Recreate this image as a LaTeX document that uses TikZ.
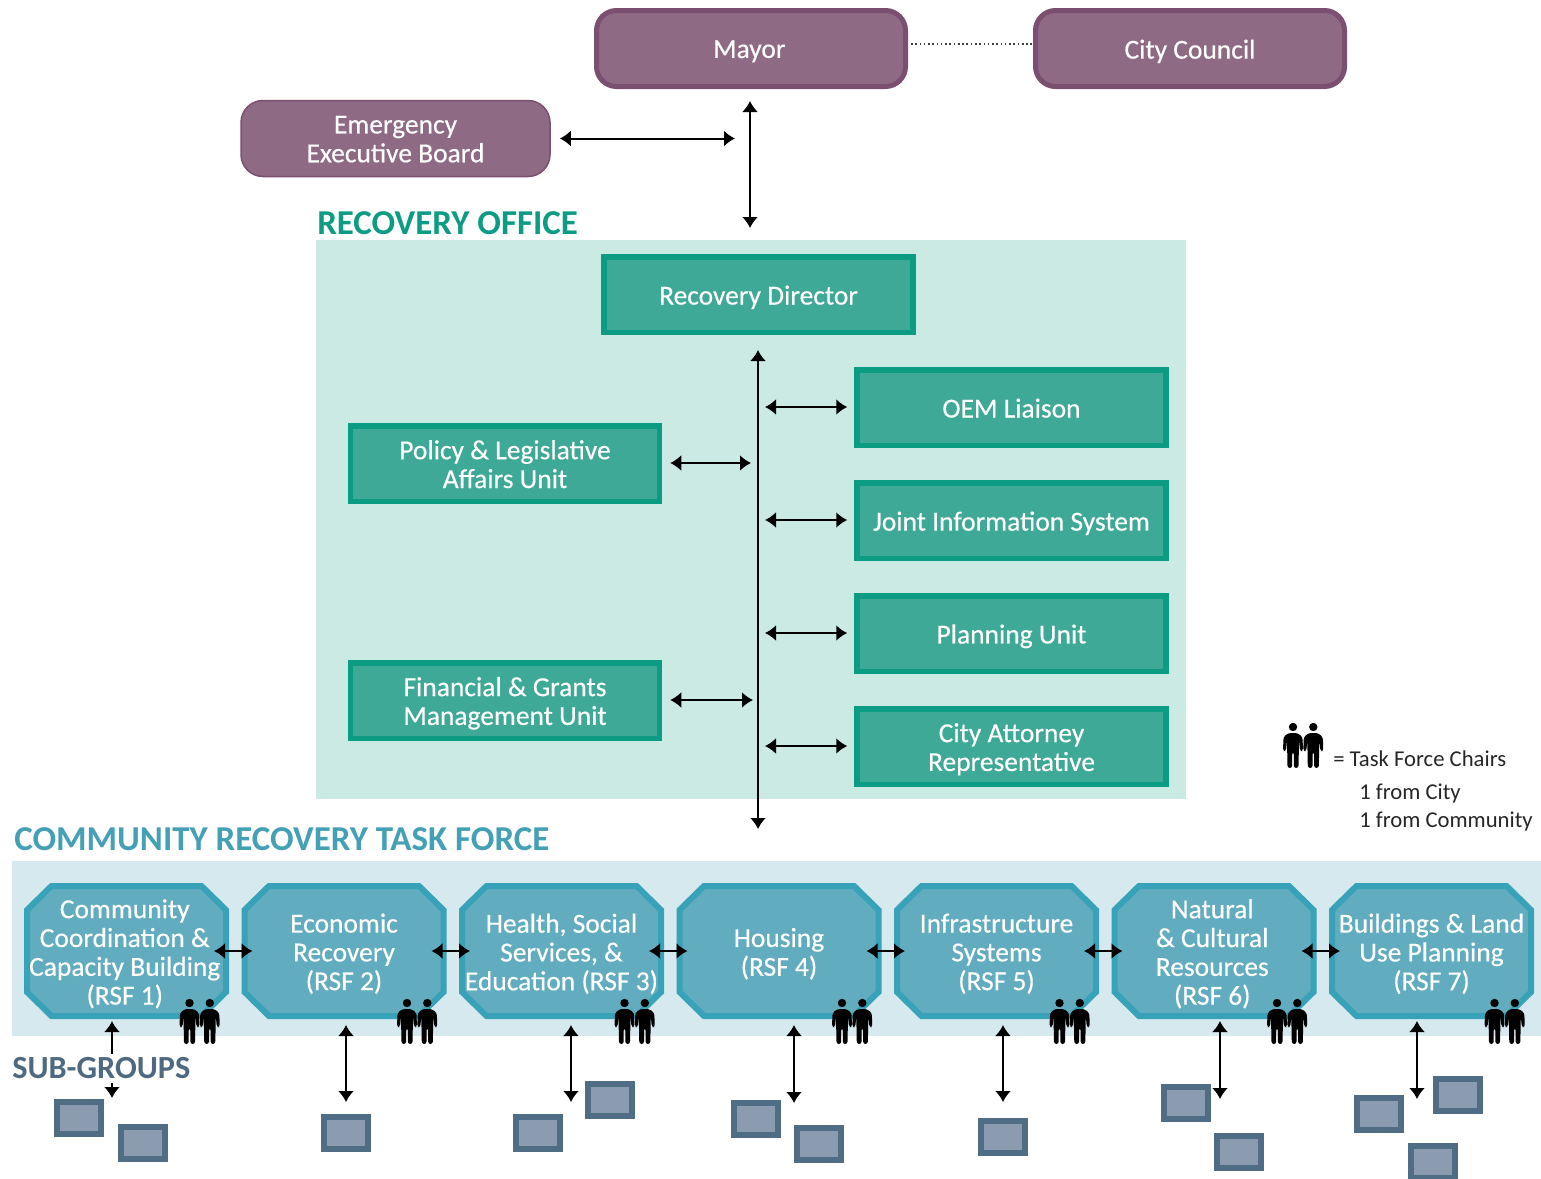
\documentclass[tikz,border=0pt]{standalone}
\usepackage{fontspec}
\setmainfont{Carlito}
\newfontfamily\boxfont{Carlito}[FakeBold=0.35]
\usetikzlibrary{arrows.meta,calc}
\definecolor{purpfill}{HTML}{8F6A85}
\definecolor{purpline}{HTML}{7A4F6F}
\definecolor{greenfill}{HTML}{3FA998}
\definecolor{greenline}{HTML}{0C9C84}
\definecolor{officebg}{HTML}{CCEAE4}
\definecolor{taskbg}{HTML}{D5E9EE}
\definecolor{rsffill}{HTML}{62ACC0}
\definecolor{rsfline}{HTML}{37A2B8}
\definecolor{taskhead}{HTML}{44A0B5}
\definecolor{subline}{HTML}{4F6D85}
\definecolor{subfill}{HTML}{8B9CB0}
\definecolor{subhead}{HTML}{4F6A80}
\def\px{0.75pt}
\tikzset{
  x=0.75pt,y=-0.75pt,
  txt/.style={text=white,align=center,font=\boxfont\fontsize{20.6}{21.6}\selectfont,inner sep=0pt,yshift=-2.1pt},
  boxtext/.style={label={[txt]center:{#1}}},
  boxtextup/.style={label={[txt,yshift=1.6pt]center:{#1}}},
  boxtextleft/.style={label={[txt,xshift=-1.3pt]center:{#1}}},
  purpbox/.style={draw=purpline,fill=purpfill,line width=5*\px,rounded corners=20*\px,minimum width=309*\px,minimum height=76*\px,inner sep=0pt},
  eebbox/.style={draw=purpline,fill=purpfill,line width=1.5*\px,rounded corners=22*\px,minimum width=309*\px,minimum height=76*\px,inner sep=0pt},
  greenbox/.style={draw=greenline,fill=greenfill,line width=5.5*\px,minimum width=309*\px,minimum height=75.5*\px,inner sep=0pt},
  rsf/.style={minimum width=205*\px,minimum height=136*\px,inner sep=0pt,outer sep=0pt},
  rsfshape/.style={draw=rsfline,fill=rsffill,line width=6*\px,line join=miter},
  subbox/.style={draw=subline,fill=subfill,line width=6*\px,minimum width=44*\px,minimum height=32*\px,inner sep=0pt},
  arr/.style={{Latex[length=11*\px,width=16*\px]}-{Latex[length=11*\px,width=16*\px]},line width=2*\px,black},
  head/.style={font=\fontsize{26.2}{28}\selectfont\bfseries,inner sep=0pt,anchor=west},
  legend/.style={font=\fontsize{17}{18}\selectfont,inner sep=0pt,anchor=west,text=black!85},
  pics/person/.style={code={
    \fill[black] (0,0) circle[radius=4.2];
    \fill[black,rounded corners=2.5*\px] (-4.5,6) -- (4.5,6) -- (9.5,10) -- (10,24) -- (7,24) -- (6,13) -- (5.5,41) -- (0.8,41) -- (0.8,25) -- (-0.8,25) -- (-0.8,41) -- (-5.5,41) -- (-6,13) -- (-7,24) -- (-10,24) -- (-9.5,10) -- cycle;
  }},
  pics/chairs/.style={code={
    \pic at (0,0) {person};
    \pic at (20.3,0) {person};
  }},
  pics/octagon/.style={code={
    \draw[rsfshape] (-75,-65) -- (75,-65) -- (99.5,-41) -- (99.5,41) -- (75,65) -- (-75,65) -- (-99.5,41) -- (-99.5,-41) -- cycle;
  }}
}
\begin{document}
\begin{tikzpicture}
\useasboundingbox (0,0) rectangle (1541,1178);
% panels
\fill[officebg] (316,240) rectangle (1186,799);
\fill[taskbg] (12,861) rectangle (1541,1036);
% leadership
\node[purpbox,boxtextleft={Mayor}] (mayor) at (751,48.5) {};
\node[purpbox,boxtext={City Council}] (council) at (1190,48.5) {};
\node[eebbox,boxtextup={Emergency\\Executive Board}] (eeb) at (395.5,138.5) {};
% office
\node[head,text=greenline] (officehead) at (317,223) {RECOVERY OFFICE};
\node[greenbox,boxtext={Recovery Director}] (director) at (758.5,294.5) {};
\node[greenbox,boxtextup={Policy \& Legislative\\Affairs Unit}] (policy) at (505,463.5) {};
\node[greenbox,boxtext={Financial \& Grants\\Management Unit}] (finance) at (505,700.5) {};
\node[greenbox,boxtextup={OEM Liaison}] (oem) at (1011.5,407.5) {};
\node[greenbox,boxtext={Joint Information System}] (jis) at (1011.5,520.5) {};
\node[greenbox,boxtext={Planning Unit}] (planning) at (1011.5,633.5) {};
\node[greenbox,boxtext={City Attorney\\Representative}] (attorney) at (1011.5,746.5) {};
% task force
\node[head,text=taskhead] (taskhead) at (14,839) {COMMUNITY RECOVERY TASK FORCE};
\pic at (126.5,951) {octagon};
\pic at (344,951) {octagon};
\pic at (561.5,951) {octagon};
\pic at (779,951) {octagon};
\pic at (996.5,951) {octagon};
\pic at (1214,951) {octagon};
\pic at (1431.5,951) {octagon};
\node[rsf,boxtextleft={Community\\Coordination \&\\Capacity Building\\(RSF 1)}] (r1) at (126.5,951) {};
\node[rsf,boxtext={Economic\\Recovery\\(RSF 2)}] (r2) at (344,951) {};
\node[rsf,boxtext={Health, Social\\Services, \&\\Education (RSF 3)}] (r3) at (561.5,951) {};
\node[rsf,boxtext={Housing\\(RSF 4)}] (r4) at (779,951) {};
\node[rsf,boxtext={Infrastructure\\Systems\\(RSF 5)}] (r5) at (996.5,951) {};
\node[rsf,boxtextleft={Natural\\\& Cultural\\Resources\\(RSF 6)}] (r6) at (1214,951) {};
\node[rsf,boxtext={Buildings \& Land\\Use Planning\\(RSF 7)}] (r7) at (1431.5,951) {};
% sub-group boxes
\node[subbox] (s1a) at (79,1118) {};
\node[subbox] (s1b) at (143,1143) {};
\node[subbox] (s2a) at (346,1132.5) {};
\node[subbox] (s3a) at (538,1132.5) {};
\node[subbox] (s3b) at (610,1099.5) {};
\node[subbox] (s4a) at (756,1118.5) {};
\node[subbox] (s4b) at (819,1143.5) {};
\node[subbox] (s5a) at (1003,1136.5) {};
\node[subbox] (s6a) at (1186,1102.5) {};
\node[subbox] (s6b) at (1239,1151.5) {};
\node[subbox] (s7a) at (1379,1113.5) {};
\node[subbox] (s7b) at (1458,1095) {};
\node[subbox] (s7c) at (1433,1161.5) {};
% connector ends
\coordinate (mtop) at (750,101);
\coordinate (mbot) at (750,228);
\coordinate (mhub) at (735,138.5);
\coordinate (dtop) at (758,350);
\coordinate (dbot) at (758,829);
\coordinate (oemw) at (765,407);
\coordinate (jisw) at (765,520);
\coordinate (plnw) at (765,633);
\coordinate (attw) at (765,746);
\coordinate (pole) at (751,463);
\coordinate (fine) at (753,700);
\coordinate (t1) at (112,1021); \coordinate (b1) at (112,1098);
\coordinate (t2) at (346,1025); \coordinate (b2) at (346,1102);
\coordinate (t3) at (571,1025); \coordinate (b3) at (571,1102);
\coordinate (t4) at (794,1025); \coordinate (b4) at (794,1103);
\coordinate (t5) at (1003,1025); \coordinate (b5) at (1003,1102);
\coordinate (t6) at (1220,1021); \coordinate (b6) at (1220,1099);
\coordinate (t7) at (1417,1021); \coordinate (b7) at (1417,1099);
% connectors
\draw[black!75,line width=1.6*\px,dotted,shorten <=3*\px] ([yshift=3.4pt]mayor.east) -- ([yshift=3.4pt]council.west);
\draw[arr] (mtop) -- (mbot);
\draw[arr,shorten <=9*\px] (eeb.east) -- (mhub);
\draw[arr] (dtop) -- (dbot);
\draw[arr,shorten >=7*\px] (oemw) -- (oem.west |- oemw);
\draw[arr,shorten >=7*\px] (jisw) -- (jis.west |- jisw);
\draw[arr,shorten >=7*\px] (plnw) -- (planning.west |- plnw);
\draw[arr,shorten >=7*\px] (attw) -- (attorney.west |- attw);
\draw[arr,shorten <=8*\px] (policy.east |- pole) -- (pole);
\draw[arr,shorten <=8*\px] (finance.east |- fine) -- (fine);
\draw[arr,shorten <=-15*\px,shorten >=-11*\px] (r1.east) -- (r2.west);
\draw[arr,shorten <=-15*\px,shorten >=-11*\px] (r2.east) -- (r3.west);
\draw[arr,shorten <=-15*\px,shorten >=-11*\px] (r3.east) -- (r4.west);
\draw[arr,shorten <=-15*\px,shorten >=-11*\px] (r4.east) -- (r5.west);
\draw[arr,shorten <=-15*\px,shorten >=-11*\px] (r5.east) -- (r6.west);
\draw[arr,shorten <=-15*\px,shorten >=-11*\px] (r6.east) -- (r7.west);
\draw[arr] (t1) -- (b1);
\draw[arr] (t2) -- (b2);
\draw[arr] (t3) -- (b3);
\draw[arr] (t4) -- (b4);
\draw[arr] (t5) -- (b5);
\draw[arr] (t6) -- (b6);
\draw[arr] (t7) -- (b7);
% sub-groups label over its arrow
\node[head,text=subhead,fill=white,font=\fontsize{24.2}{26}\selectfont\bfseries,inner xsep=0pt,inner ysep=1pt,minimum height=29*\px] (subgroups) at (12,1068.5) {SUB-GROUPS};
% chairs
\pic at (189.5,1003) {chairs};
\pic at (407,1003) {chairs};
\pic at (624.5,1003) {chairs};
\pic at (842,1003) {chairs};
\pic at (1059.5,1003) {chairs};
\pic at (1277,1003) {chairs};
\pic at (1494.5,1003) {chairs};
\pic at (1293,727) {chairs};
% legend
\node[legend] (lg1) at (1333,759) {= Task Force Chairs};
\node[legend] (lg2) at (1359,793.5) {1 from City};
\node[legend] (lg3) at (1359,821.5) {1 from Community};
\end{tikzpicture}
\end{document}
